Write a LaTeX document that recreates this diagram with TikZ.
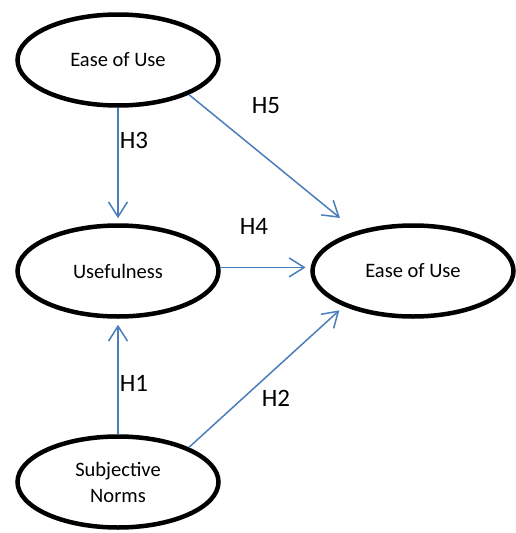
\documentclass[tikz,border=0pt]{standalone}
\usepackage{fontspec}
\setmainfont{Carlito}
\usetikzlibrary{shapes.geometric, arrows.meta}
\definecolor{linkblue}{HTML}{4A7EBB}
\begin{document}
\begin{tikzpicture}[x=1pt, y=-1pt,
  construct/.style={ellipse, draw, line width=4.5pt, minimum width=201pt, minimum height=91pt,
    inner sep=0pt, align=center, font=\fontsize{20.5}{26}\selectfont},
  link/.style={draw=linkblue, line width=1.5pt, -{Straight Barb[length=15pt, width=19pt]}},
  hyp/.style={inner sep=0pt, font=\fontsize{25}{30}\selectfont}]
  \useasboundingbox (0,0) rectangle (515,533);
  \node[construct] (ease)   at (118,60)  {Ease of Use};
  \node[construct] (useful) at (118,271) {Usefulness};
  \node[construct] (target) at (413,271) {Ease of Use};
  \node[construct] (norms)  at (118,482) {Subjective\\Norms};
  % hypotheses
  \draw[link, shorten >=5pt]  (ease.south) -- (useful.north);
  \draw[link, shorten >=21pt] (ease.-26) -- (target.145);
  \draw[link, shorten >=5pt]  (useful.2) -- (target.178);
  \draw[link, shorten >=6pt]  (norms.north) -- (useful.south);
  \draw[link, shorten >=6pt]  (norms.26) -- (target.-153);
  \node[hyp] (h3) at (134,140) {H3};
  \node[hyp] (h5) at (266,106) {H5};
  \node[hyp] (h4) at (254,226) {H4};
  \node[hyp] (h1) at (134,383) {H1};
  \node[hyp] (h2) at (276,398) {H2};
\end{tikzpicture}
\end{document}
